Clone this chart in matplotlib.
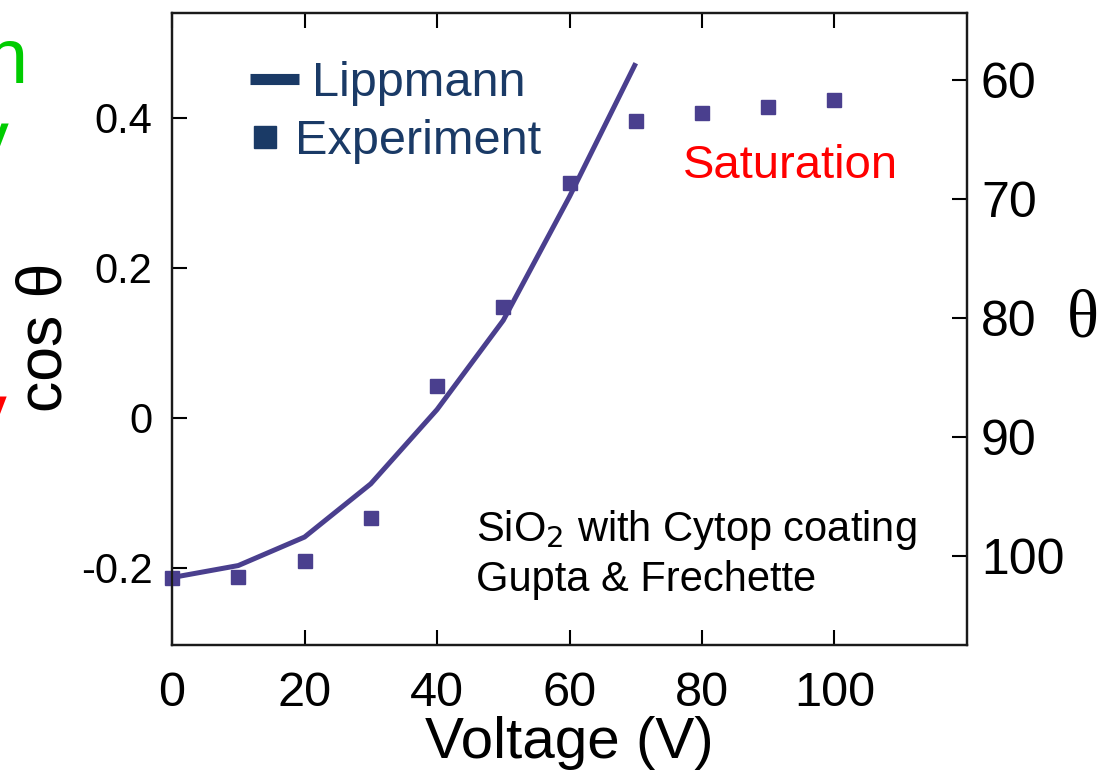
import matplotlib
matplotlib.use("Agg")
import matplotlib.pyplot as plt
from matplotlib.lines import Line2D

plt.rcParams['font.family'] = ['Liberation Sans', 'DejaVu Sans']

# data
voltage_exp = [0, 10, 20, 30, 40, 50, 60, 70, 80, 90, 100]
cos_exp = [-0.213, -0.212, -0.191, -0.133, 0.043, 0.148, 0.313, 0.396, 0.407, 0.415, 0.424]

voltage_lipp = [0, 10, 20, 30, 40, 50, 60, 70]
cos_lipp = [-0.213, -0.197, -0.159, -0.088, 0.011, 0.130, 0.295, 0.473]

x_ticks = [0, 20, 40, 60, 80, 100]
cos_ticks = [-0.2, 0, 0.2, 0.4]
cos_tick_labels = ['-0.2', '0', '0.2', '0.4']
theta_ticks = [60, 70, 80, 90, 100]

line_col = '#4a3f8e'
legend_col = '#1a3a66'

fig = plt.figure(figsize=(11.17, 7.81), dpi=100)
ax = fig.add_axes([0.154, 0.1741, 0.7117, 0.8093])

ax.plot(voltage_lipp, cos_lipp, color=line_col, lw=3.6, solid_capstyle='butt', zorder=3)
ax.plot(voltage_exp, cos_exp, 's', color=line_col, markersize=10.5, clip_on=False, zorder=4)

ax.set_xlim(0, 120)
ax.set_ylim(-0.303, 0.54)
ax.set_xticks(x_ticks)
ax.set_xticklabels([str(v) for v in x_ticks])
ax.set_yticks(cos_ticks)
ax.set_yticklabels(cos_tick_labels)

for s in ax.spines.values():
    s.set_linewidth(1.6)
    s.set_color('#1a1a1a')

ax.tick_params(axis='x', which='both', direction='in', length=11, width=1.5,
               top=True, labeltop=False, labelsize=35, pad=19)
ax.tick_params(axis='y', direction='in', length=11, width=1.5, labelsize=30, pad=14)

ax.set_xlabel('Voltage (V)', fontsize=42, labelpad=0)
ax.set_ylabel('cos θ', fontsize=45)
ax.yaxis.set_label_coords(-0.123, 0.487)

# right axis with contact angle
ax2 = ax.twinx()
ax2.set_ylim(107.5, 54.4)
ax2.set_yticks(theta_ticks)
ax2.set_yticklabels([str(t) for t in theta_ticks])
ax2.tick_params(axis='y', direction='in', length=11, width=1.5, labelsize=36, pad=10)
for s in ax2.spines.values():
    s.set_linewidth(1.6)
    s.set_color('#1a1a1a')
fig.text(0.9696, 0.590, 'θ', fontsize=48, family=['Liberation Serif', 'DejaVu Serif'],
         ha='center', va='center')

# legend, two entries placed separately as in the original
leg1 = ax.legend([Line2D([], [], color=legend_col, lw=8, solid_capstyle='butt')],
                 ['Lippmann'], loc='center left', bbox_to_anchor=(0.098, 0.888),
                 frameon=False, fontsize=35, handlelength=1.0, handletextpad=0.27,
                 borderpad=0, borderaxespad=0)
for t in leg1.get_texts():
    t.set_color(legend_col)
ax.add_artist(leg1)
leg2 = ax.legend([Line2D([], [], color=legend_col, marker='s', ls='none', markersize=16)],
                 ['Experiment'], loc='center left', bbox_to_anchor=(0.102, 0.797),
                 frameon=False, fontsize=35, handlelength=0.5, handletextpad=0.37,
                 borderpad=0, borderaxespad=0)
for t in leg2.get_texts():
    t.set_color(legend_col)

ax.text(77.1, 0.336, 'Saturation', color='#ff0000', fontsize=34, va='center', ha='left')
ax.text(45.9, -0.149, 'SiO$_2$ with Cytop coating', fontsize=30, va='center', ha='left')
ax.text(45.9, -0.216, 'Gupta & Frechette', fontsize=30, va='center', ha='left')

# cut-off fragments of neighbouring slide text on the left edge
fig.text(0.025, 0.92, 'n', color='#00cc00', fontsize=56, ha='right', va='center')
fig.text(0.008, 0.815, 'y', color='#00cc00', fontsize=56, ha='right', va='center')
fig.text(0.006, 0.465, 'y', color='#ff0000', fontsize=56, ha='right', va='center')

fig.savefig('out.png', dpi=100)
